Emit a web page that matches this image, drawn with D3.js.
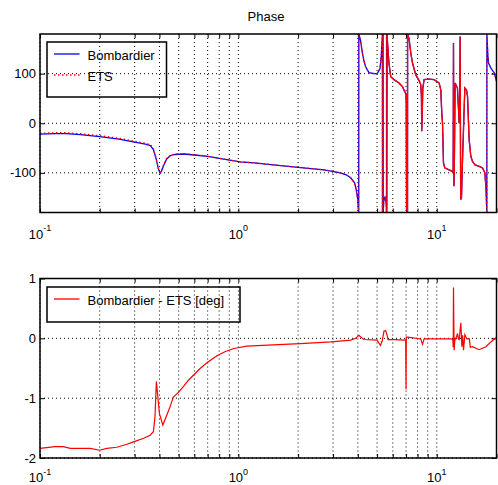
<!DOCTYPE html>
<html><head><meta charset="utf-8">
<script src="https://cdn.jsdelivr.net/npm/d3@7"></script>
<style>
body{margin:0;background:#fff}
svg{display:block}
text{font-family:"Liberation Sans",Arial,Helvetica,sans-serif;fill:#000}
</style>
</head><body>
<svg id="chart" width="498" height="485"></svg>
<script>
// ---------- DATA ----------
const freqPhase = [0.1,0.12,0.135,0.16,0.2,0.25,0.3,0.34,0.36,0.373,0.385,0.395,0.403,0.41,0.42,0.435,0.455,0.48,0.53,0.6,0.7,0.8,0.92,1.02,1.2,1.5,2.0,2.7,3.27,3.5,3.68,3.85,3.93,4.0,4.04,4.045,4.08,4.13,4.22,4.3,4.38,4.55,4.83,5.01,5.17,5.25,5.3,5.32,5.325,5.36,5.37,5.40,5.42,5.47,5.52,5.56,5.58,5.585,5.60,5.62,5.65,5.74,5.86,6.09,6.45,6.71,6.85,6.97,7.0,7.02,7.04,7.06,7.08,7.10,7.12,7.125,7.25,7.4,7.55,7.83,8.14,8.30,8.37,8.40,8.45,8.50,8.63,9.15,9.70,10.28,10.48,10.60,10.69,10.81,10.97,11.53,12.0,12.10,12.14,12.20,12.25,12.37,12.71,12.90,12.96,13.05,13.11,13.2,13.32,13.48,13.64,13.85,14.13,14.29,14.56,14.85,15.14,15.61,16.35,17.0,17.47,17.67,17.88,17.89,18.1,18.25,18.75,19.5,20.0];
const phaseBombardier = [-22,-21,-21,-23,-27,-32,-38,-42,-45,-53,-72,-92,-101,-96,-85,-72,-65,-63,-62,-64,-67,-71,-75,-78,-80,-84,-89,-94,-100,-104,-110,-120,-135,-155,-180,180,175,166,141,125,114,102,100,100,110,135,165,180,-180,180,-180,-160,-148,-155,-148,-165,-180,180,-180,180,160,121,94,88,81,74,66,60,56,40,-175,60,-178,40,-180,180,170,141,121,98,86,78,54,-16,20,70,88,89,88,81,67,20,0,-80,-90,-94,-97,-100,162,-127,-100,81,71,20,0,30,175,-154,-150,-74,-10,71,67,54,-33,-67,-77,-84,-87,-90,-100,-127,-180,180,135,121,111,101,85];
const phaseETS = [-20.2,-19.2,-19.2,-21.2,-25.1,-30.2,-36.3,-40.3,-43.4,-51.4,-71.2,-90.8,-99.7,-94.6,-83.6,-70.7,-63.9,-62.1,-61.2,-63.4,-66.6,-70.7,-74.8,-77.9,-79.9,-83.9,-88.9,-93.9,-100,-104,-110,-120,-135,-155,-180,180,175,166,141,125,114,102,100,100,110.1,135,165,180,-180,180,-180,-160,-148.1,-155.1,-148.1,-165,-180,180,-180,180,160,121,94,88,81,74,66,60,56,40.8,-175,60,-178,40,-180,180,170,141,121,98,86,78,54,-15.9,20,70,88,89,88,81,67,20,0,-80,-90,-94,-97,-100,161.2,-126.8,-100,81,71,20,0,30,175,-154,-150,-74,-10,71,67,54,-33,-67,-76.9,-83.9,-86.8,-89.9,-99.9,-126.9,-180,180,135,121,111,101,85];

const freqDiff = [0.1,0.119,0.131,0.142,0.179,0.2,0.217,0.244,0.274,0.296,0.333,0.359,0.373,0.38,0.386,0.40,0.416,0.436,0.455,0.47,0.5,0.53,0.56,0.6,0.643,0.7,0.78,0.86,0.95,1.1,1.5,2.05,2.93,3.68,3.9,4.05,4.28,5.0,5.2,5.3,5.42,5.52,5.6,5.68,6.1,6.97,7.0,7.02,7.15,8.3,8.47,8.64,11.77,12.05,12.10,12.14,12.23,12.35,12.47,12.72,12.85,12.97,13.22,13.38,13.5,13.64,13.85,14.18,14.6,14.75,15.14,16.36,17.68,18.74,19.86,20];
const diffPhase = [-1.84,-1.81,-1.81,-1.84,-1.84,-1.87,-1.84,-1.82,-1.77,-1.73,-1.67,-1.62,-1.56,-1.3,-0.72,-1.26,-1.45,-1.28,-1.12,-0.98,-0.9,-0.8,-0.7,-0.6,-0.5,-0.4,-0.29,-0.22,-0.17,-0.13,-0.11,-0.09,-0.06,-0.03,0.0,0.05,-0.02,-0.03,-0.12,-0.05,0.12,0.13,0.07,-0.02,-0.02,-0.03,-0.85,0.02,0.02,-0.01,-0.1,-0.01,-0.01,-0.02,-0.15,0.85,-0.2,0.0,-0.01,0.08,-0.01,-0.02,0.26,-0.14,0.05,-0.2,0.06,-0.01,-0.01,-0.15,-0.14,-0.19,-0.14,-0.06,0.01,0.02];

const xTickValues = [0.1, 1, 10];
const xTickBase = ["10", "10", "10"];
const xTickExp = ["-1", "0", "1"];
const phaseTicks = [-100, 0, 100];
const phaseTickLabels = ["-100", "0", "100"];
const diffTicks = [-2, -1, 0, 1];
const diffTickLabels = ["-2", "-1", "0", "1"];
const titleText = "Phase";
const legendTopLabels = ["Bombardier", "ETS"];
const legendBottomLabels = ["Bombardier - ETS [deg]"];

// ---------- STYLE / LAYOUT ----------
const blue = "#0000ff", red = "#ff0000";
const etsSolidRange = [5.62, 17.67];
const L = 40, R = 496.5;
const topP = {y0: 34, y1: 212.5, lab: 26};
const botP = {y0: 278.5, y1: 458, lab: 24};

const svg = d3.select("#chart");
const x = d3.scaleLog().domain([0.1, 20]).range([L, R]);
const yTop = d3.scaleLinear().domain([-180, 180]).range([topP.y1, topP.y0]);
const yBot = d3.scaleLinear().domain([-2, 1]).range([botP.y1, botP.y0]);
const xAll = x.ticks();

function panel(id, y, yTicks, yLabels, p) {
  const g = svg.append("g");
  svg.append("clipPath").attr("id", id).append("rect")
    .attr("x", L).attr("y", p.y0).attr("width", R - L).attr("height", p.y1 - p.y0);
  // grid
  g.append("g").selectAll("line").data(xAll).join("line")
    .attr("x1", d => x(d)).attr("x2", d => x(d)).attr("y1", p.y0).attr("y2", p.y1)
    .attr("stroke", "#000").attr("stroke-width", 1).attr("stroke-dasharray", "1,3");
  g.append("g").selectAll("line").data(yTicks).join("line")
    .attr("x1", L).attr("x2", R).attr("y1", d => y(d)).attr("y2", d => y(d))
    .attr("stroke", "#000").attr("stroke-width", 1).attr("stroke-dasharray", "1,3");
  // tick marks (inward)
  const tk = [
    g.append("g").attr("transform", `translate(0,${p.y1})`).call(d3.axisBottom(x).tickValues(xAll).tickSize(-4).tickFormat("")),
    g.append("g").attr("transform", `translate(0,${p.y0})`).call(d3.axisTop(x).tickValues(xAll).tickSize(-4).tickFormat("")),
    g.append("g").attr("transform", `translate(${L},0)`).call(d3.axisLeft(y).tickValues(yTicks).tickSize(-5).tickFormat("")),
    g.append("g").attr("transform", `translate(${R},0)`).call(d3.axisRight(y).tickValues(yTicks).tickSize(-5).tickFormat(""))
  ];
  tk.forEach(a => { a.select(".domain").remove(); a.selectAll("line").attr("stroke", "#000"); });
  // y labels
  g.append("g").selectAll("text").data(yTicks).join("text")
    .attr("x", L - 4).attr("y", d => y(d) + 4.6).attr("text-anchor", "end")
    .attr("font-size", 13).text((d, i) => yLabels[i]);
  // x labels
  const xl = g.append("g").selectAll("text").data(xTickValues).join("text")
    .attr("x", d => x(d)).attr("y", p.y1 + p.lab).attr("text-anchor", "middle").attr("font-size", 13);
  xl.append("tspan").text((d, i) => xTickBase[i]);
  xl.append("tspan").attr("font-size", 9).attr("dy", -7.5).text((d, i) => xTickExp[i]);
  return g;
}

const gTop = panel("clipTop", yTop, phaseTicks, phaseTickLabels, topP);
const gBot = panel("clipBot", yBot, diffTicks, diffTickLabels, botP);

// title
svg.append("text").attr("x", 266).attr("y", 20.5).attr("text-anchor", "middle")
  .attr("font-size", 13).text(titleText);

// top curves
const topData = freqPhase.map((f, i) => ({f, b: phaseBombardier[i], e: phaseETS[i]}));
const cTop = gTop.append("g").attr("clip-path", "url(#clipTop)");
cTop.append("path").datum(topData)
  .attr("d", d3.line().x(d => x(d.f)).y(d => yTop(d.b)))
  .attr("fill", "none").attr("stroke", blue).attr("stroke-width", 1.3);
cTop.append("path").datum(topData)
  .attr("d", d3.line().defined(d => d.f <= etsSolidRange[0] || d.f >= etsSolidRange[1]).x(d => x(d.f)).y(d => yTop(d.e)))
  .attr("fill", "none").attr("stroke", red).attr("stroke-width", 1.3).attr("stroke-dasharray", "1.5,2.5");
cTop.append("path").datum(topData)
  .attr("d", d3.line().defined(d => d.f >= etsSolidRange[0] && d.f <= etsSolidRange[1]).x(d => x(d.f)).y(d => yTop(d.e)))
  .attr("fill", "none").attr("stroke", red).attr("stroke-width", 1.3);

// bottom curve
const botData = freqDiff.map((f, i) => ({f, v: diffPhase[i]}));
gBot.append("g").attr("clip-path", "url(#clipBot)").append("path").datum(botData)
  .attr("d", d3.line().x(d => x(d.f)).y(d => yBot(d.v)))
  .attr("fill", "none").attr("stroke", red).attr("stroke-width", 1.2);

// borders
[topP, botP].forEach(p => {
  svg.append("rect").attr("x", L).attr("y", p.y0).attr("width", R - L).attr("height", p.y1 - p.y0)
    .attr("fill", "none").attr("stroke", "#000").attr("stroke-width", 1.5);
});

// legends (transparent background)
function legend(y0, w, labels, styles) {
  const h = 10 + labels.length * 21 + (labels.length > 1 ? 3 : 4);
  svg.append("rect").attr("x", 47).attr("y", y0).attr("width", w).attr("height", h)
    .attr("fill", "none").attr("stroke", "#000").attr("stroke-width", 1.5);
  labels.forEach((lab, i) => {
    const ly = y0 + 12 + i * 21;
    svg.append("line").attr("x1", 54).attr("x2", 79.5).attr("y1", ly).attr("y2", ly)
      .attr("stroke", styles[i].c).attr("stroke-width", 1.3)
      .attr("stroke-dasharray", styles[i].d || null);
    svg.append("text").attr("x", 87.5).attr("y", ly + 5.5).attr("font-size", 13).text(lab);
  });
}
legend(42, 119.5, legendTopLabels, [{c: blue}, {c: red, d: "1.5,2.5"}]);
legend(287, 193, legendBottomLabels, [{c: red}]);
</script>
</body></html>
